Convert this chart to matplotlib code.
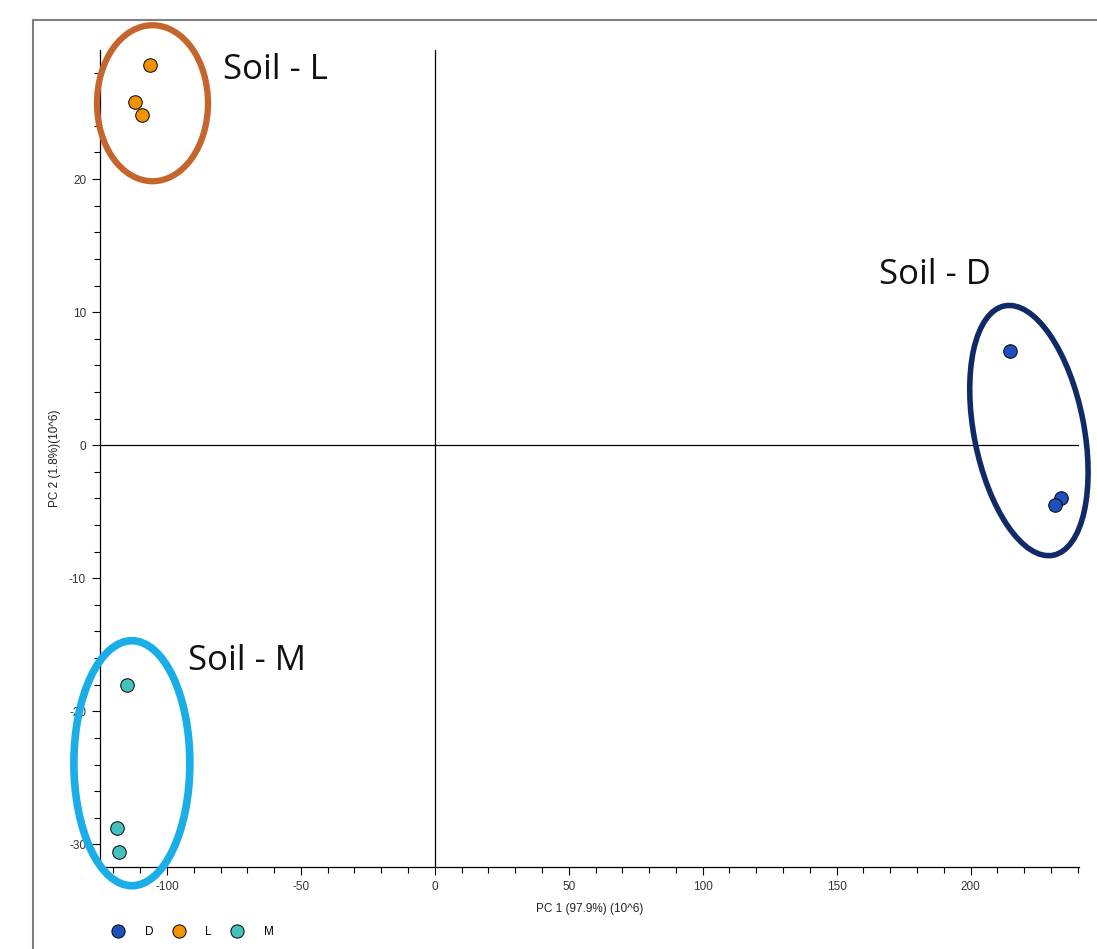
import numpy as np
import matplotlib.pyplot as plt
from matplotlib.patches import Ellipse
from matplotlib.lines import Line2D
import matplotlib.transforms as transforms

plt.rcParams['axes.unicode_minus'] = False

# PCA scores (10^6)
groups = ['D', 'L', 'M']
colors = {'D': '#1d4fbf', 'L': '#f39200', 'M': '#43c1bf'}
pc1 = {
    'D': [214.6, 233.6, 231.4],
    'L': [-106.5, -111.8, -109.2],
    'M': [-115.1, -118.5, -117.8],
}
pc2 = {
    'D': [7.1, -4.0, -4.5],
    'L': [28.6, 25.8, 24.8],
    'M': [-18.0, -28.8, -30.6],
}

# hand-drawn cluster rings: label, centre (data), width/height (inches), angle, colour
rings = [
    ('Soil - L', (-105.4, 25.7), 1.11, 1.56, 0, '#c5652d', 4.5, (-79, 28.2)),
    ('Soil - D', (221.8, 1.1), 2.54, 1.10, 101.0, '#0f2a66', 4.0, (166, 12.8)),
    ('Soil - M', (-113.1, -23.9), 1.16, 2.45, 0, '#1aaee8', 5.5, (-92, -16.2)),
]

fig = plt.figure(figsize=(10.97, 9.49), dpi=100)
ax = fig.add_axes([100 / 1097, 82 / 949, 979 / 1097, 817 / 949])

for g in groups:
    ax.scatter(pc1[g], pc2[g], s=95, color=colors[g], edgecolor='black',
               linewidth=0.7, zorder=4)

ax.axhline(0, color='black', lw=0.9, zorder=1)
ax.axvline(0, color='black', lw=0.9, zorder=1)

for label, (cx, cy), w, h, ang, col, lw, (tx, ty) in rings:
    trans = fig.dpi_scale_trans + transforms.ScaledTranslation(cx, cy, ax.transData)
    ax.add_patch(Ellipse((0, 0), w, h, angle=ang, fill=False, edgecolor=col,
                         lw=lw, transform=trans, zorder=3, clip_on=False))
    ax.text(tx, ty, label, fontsize=25, family='Open Sans', color='#111111',
            ha='left', va='center')

ax.set_xlim(-125, 240.5)
ax.set_ylim(-31.7, 29.7)
ax.set_xticks([-100, -50, 0, 50, 100, 150, 200])
ax.set_xticks(np.arange(-120, 241, 10), minor=True)
ax.set_yticks([-30, -20, -10, 0, 10, 20])
ax.set_yticks(np.arange(-30, 30, 2), minor=True)
for s in ['top', 'right']:
    ax.spines[s].set_visible(False)
ax.spines['left'].set_linewidth(0.9)
ax.spines['bottom'].set_linewidth(0.9)
ax.tick_params(which='major', length=6, width=0.8, labelsize=8.5, labelcolor='#333333', pad=4)
ax.tick_params(which='minor', length=4, width=0.8)
for lab in ax.get_xticklabels() + ax.get_yticklabels():
    lab.set_family('Liberation Sans')
ax.set_xlabel('PC 1 (97.9%) (10^6)', fontsize=8.5, color='#222222', labelpad=7,
              family='Liberation Sans')
ax.set_ylabel('PC 2 (1.8%)(10^6)', fontsize=8.5, color='#222222', labelpad=6,
              family='Liberation Sans')

# legend along the bottom
handles = [Line2D([], [], marker='o', ls='', markersize=9.5, markerfacecolor=colors[g],
                  markeredgecolor='black', markeredgewidth=0.7) for g in groups]
fig.legend(handles, groups, loc='center left', bbox_to_anchor=(100 / 1097, 17 / 949),
           ncol=3, frameon=False, handlelength=1.3, handletextpad=1.6,
           columnspacing=1.5, prop={'family': 'Liberation Sans', 'size': 8.5})

# window frame of the screenshot
fig.add_artist(Line2D([33 / 1097, 33 / 1097], [0, 929 / 949], color='#808080', lw=1.5))
fig.add_artist(Line2D([33 / 1097, 1], [929 / 949, 929 / 949], color='#808080', lw=1.5))

fig.savefig('out.png', dpi=100)
